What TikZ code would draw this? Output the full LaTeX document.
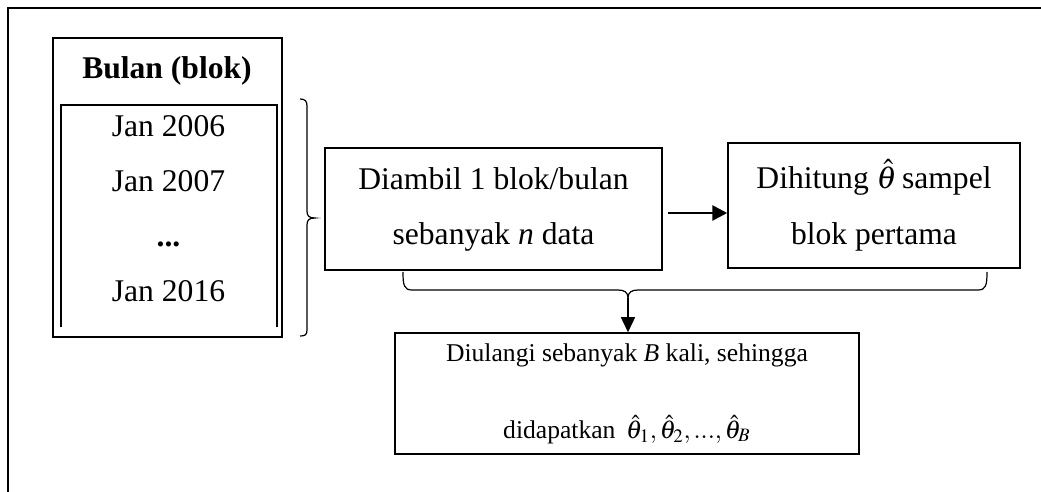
\documentclass[tikz,border=0pt]{standalone}
\usepackage{mathptmx}
\usepackage{fontspec}
\setmainfont{Liberation Serif}
\usetikzlibrary{arrows.meta}
\newcommand\diagfont{\fontsize{15.8}{27.5}\selectfont}
\newcommand\smalldiagfont{\fontsize{12.8}{38.5}\selectfont}
\tikzset{
  box/.style={draw, line width=0.75pt, inner sep=0pt, align=center, font=\diagfont},
  lbl/.style={inner sep=0pt, anchor=base, font=\diagfont},
  bracepath/.style={line width=0.6pt},
  harrow/.style={line width=1.4pt, -{Triangle[length=7.5pt,width=7.5pt]}},
  varrow/.style={line width=0.7pt, -{Triangle[length=7.5pt,width=7pt]}}
}
\begin{document}
\begin{tikzpicture}[x=0.5pt, y=-0.5pt]
\useasboundingbox (0,0) rectangle (1041,492);
% outer frame (top and left only)
\draw[line width=1.25pt] (8,492) -- (8,8) -- (1041,8);
% left block
\node[box, minimum width=114.5pt, minimum height=149.5pt] (bulan) at (167.5,187.5) {};
\draw[line width=1pt] (61,327) -- (61,105) -- (277,105) -- (277,327);
\node[lbl, font=\diagfont\bfseries] (title) at (167,79) {Bulan (blok)};
\node[lbl] (j2006) at (168.5,137) {Jan 2006};
\node[lbl] (j2007) at (168.5,192) {Jan 2007};
\node[lbl, font=\diagfont\bfseries] (dots) at (168.5,247) {...};
\node[lbl] (j2016) at (168.5,302) {Jan 2016};
% left brace
\draw[bracepath] (300,99) .. controls (305,99) and (307,101) .. (307,106) -- (307,211)
  .. controls (307,216) and (309,218) .. (315,218)
  .. controls (309,218) and (307,220) .. (307,225) -- (307,330)
  .. controls (307,335) and (305,336) .. (300,336);
% boxes
\node[box, minimum width=168.5pt, minimum height=61pt] (box1) at (493.5,209)
  {Diambil 1 blok/bulan\\sebanyak \textit{n} data};
\node[box, minimum width=146pt, minimum height=62.5pt] (box2) at (874,205.5)
  {Dihitung $\hat{\theta}$\,sampel\\[0.5pt]blok pertama};
\node[box, minimum width=232pt, minimum height=60.5pt, font=\smalldiagfont] (box3) at (627,393.5)
  {Diulangi sebanyak \textit{B} kali, sehingga\\didapatkan \,$\hat{\theta}_1,\hat{\theta}_2,\mathrm{...},\hat{\theta}_B$};
% horizontal arrow
\coordinate (hy) at (0,213);
\draw[harrow] ([xshift=2.5pt]box1.east |- hy) -- (box2.west |- hy);
% bottom brace
\draw[bracepath] (403,272) .. controls (403,285) and (404,290) .. (412,290) -- (618,290)
  .. controls (624,290) and (628,292) .. (628,298)
  .. controls (628,292) and (632,290) .. (638,290) -- (978,290)
  .. controls (986,290) and (987,285) .. (987,272);
\coordinate (btip) at (628,298);
\draw[varrow] (btip) -- (btip |- box3.north);
\end{tikzpicture}
\end{document}
